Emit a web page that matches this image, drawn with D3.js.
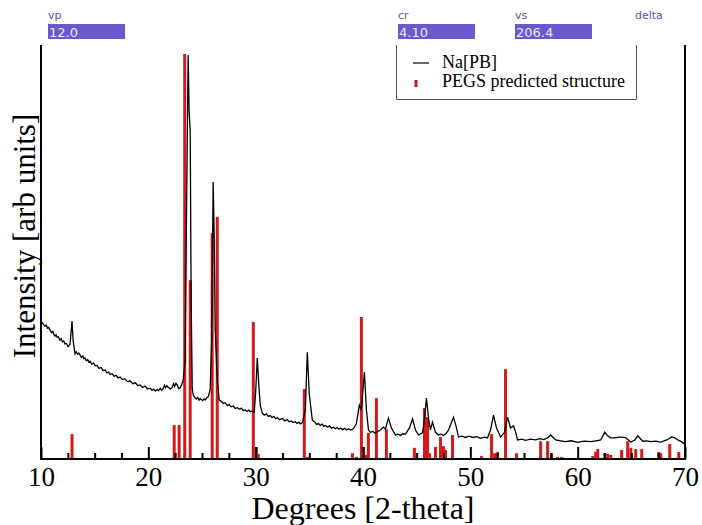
<!DOCTYPE html>
<html>
<head>
<meta charset="utf-8">
<script src="https://cdn.jsdelivr.net/npm/d3@7"></script>
<style>
  body { margin: 0; background: #fff; }
  svg { display: block; }
  .eje text { font-family: "Liberation Serif", serif; font-size: 27px; fill: #000; }
  .titulo { font-family: "Liberation Serif", serif; fill: #000; }
  .leyenda { font-family: "Liberation Serif", serif; font-size: 18px; fill: #000; }
  .widget { font-family: "DejaVu Sans", sans-serif; }
</style>
</head>
<body>
<div id="graf"></div>
<script>
// Patron experimental Na[PB]: [2-theta, intensidad]
var medido = [
  [10.09, 33.1], [10.25, 32.4], [10.37, 32.1], [10.5, 32.3], [10.6, 31.6], [10.72, 31.8], [10.84, 31.2],
  [10.97, 30.5], [11.1, 30.8], [11.2, 30.1], [11.31, 29.7], [11.4, 30.0], [11.5, 29.4], [11.63, 29.5],
  [11.77, 28.7], [11.88, 29.1], [12.0, 28.3], [12.12, 28.5], [12.24, 27.8], [12.38, 27.9], [12.52, 27.1],
  [12.71, 27.8], [12.89, 33.3], [12.99, 28.7], [13.17, 25.4], [13.28, 25.9], [13.4, 25.3], [13.52, 25.6],
  [13.64, 25.1], [13.77, 24.6], [13.9, 24.9], [14.0, 24.2], [14.10, 24.4], [14.22, 23.8], [14.35, 24.0],
  [14.46, 23.4], [14.57, 23.6], [14.73, 22.9], [14.9, 23.2], [15.05, 22.5], [15.22, 22.6], [15.4, 21.9],
  [15.6, 22.1], [15.78, 21.4], [15.97, 21.5], [16.13, 20.8], [16.3, 21.0], [16.45, 20.4], [16.62, 20.6],
  [16.8, 20.0], [17.0, 20.2], [17.18, 19.6], [17.37, 19.8], [17.58, 19.2], [17.8, 19.4], [18.05, 18.7],
  [18.30, 18.9], [18.55, 18.2], [18.8, 18.4], [19.02, 17.7], [19.24, 17.9], [19.46, 17.3], [19.7, 17.6],
  [19.93, 16.9], [20.17, 17.1], [20.35, 16.6], [20.5, 16.9], [20.66, 16.4], [20.82, 16.8], [20.96, 16.5],
  [21.1, 17.1], [21.24, 16.6], [21.38, 17.0], [21.5, 17.8], [21.6, 17.2], [21.73, 17.7], [21.85, 17.3],
  [22.05, 16.9], [22.22, 17.3], [22.35, 18.2], [22.45, 17.5], [22.57, 18.3], [22.69, 17.9], [22.83, 17.0],
  [22.97, 17.2], [23.12, 18.0], [23.25, 19.1], [23.43, 23.9], [23.57, 62.6], [23.71, 97.6], [23.80, 83.8],
  [23.90, 79.5], [23.99, 38.4], [24.09, 17.1], [24.18, 15.5], [24.32, 14.9], [24.46, 14.5], [24.6, 14.9],
  [24.72, 14.2], [24.83, 14.6], [25.05, 14.1], [25.18, 14.5], [25.30, 14.3], [25.45, 14.8], [25.58, 15.0],
  [25.76, 16.7], [25.90, 28.7], [26.04, 66.9], [26.14, 52.9], [26.23, 31.2], [26.42, 19.1], [26.60, 14.3],
  [26.8, 13.9], [26.98, 13.4], [27.15, 13.6], [27.35, 12.9], [27.52, 13.2], [27.7, 12.6], [27.9, 12.8],
  [28.10, 12.2], [28.3, 12.4], [28.5, 12.0], [28.67, 12.3], [28.84, 11.7], [29.0, 11.9], [29.2, 11.5],
  [29.35, 11.8], [29.50, 11.4], [29.7, 11.6], [29.87, 11.3], [30.01, 16.7], [30.15, 24.4], [30.29, 17.9],
  [30.43, 13.0], [30.61, 11.1], [30.8, 10.6], [31.0, 10.9], [31.18, 10.3], [31.36, 10.5], [31.53, 10.0],
  [31.7, 10.3], [31.86, 9.7], [32.01, 10.0], [32.25, 9.5], [32.5, 9.8], [32.72, 9.2], [32.95, 9.5],
  [33.12, 9.0], [33.3, 9.2], [33.5, 8.8], [33.69, 9.0], [33.85, 8.6], [34.0, 8.9], [34.18, 8.5],
  [34.35, 8.8], [34.63, 11.8], [34.81, 25.8], [35.00, 15.5], [35.28, 9.4], [35.55, 8.8], [35.7, 8.3],
  [35.84, 8.6], [36.02, 8.1], [36.2, 8.4], [36.35, 7.9], [36.49, 8.1], [36.7, 7.7], [36.9, 8.0],
  [37.07, 7.4], [37.24, 7.7], [37.42, 7.3], [37.6, 7.6], [37.75, 7.2], [37.89, 7.5], [38.1, 7.1],
  [38.3, 7.4], [38.47, 7.0], [38.64, 7.3], [38.87, 7.0], [39.10, 7.3], [39.38, 8.5], [39.66, 13.0],
  [39.85, 11.8], [40.13, 21.0], [40.32, 11.8], [40.51, 7.0], [40.7, 6.4], [40.88, 6.7], [41.1, 6.3],
  [41.34, 6.6], [41.62, 7.0], [41.90, 7.7], [42.09, 7.2], [42.37, 9.9], [42.65, 7.5], [43.02, 5.8],
  [43.25, 6.0], [43.49, 5.7], [43.72, 6.1], [43.96, 6.0], [44.33, 7.5], [44.61, 9.7], [44.89, 7.0],
  [45.17, 5.8], [45.54, 6.3], [45.72, 9.4], [45.91, 14.7], [46.10, 9.9], [46.28, 7.0], [46.47, 8.9],
  [46.75, 6.5], [47.03, 5.8], [47.25, 6.0], [47.50, 5.7], [47.75, 6.2], [47.97, 7.0], [48.25, 8.9],
  [48.43, 10.1], [48.71, 7.5], [48.90, 5.3], [49.2, 5.5], [49.55, 5.2], [49.9, 5.5], [50.21, 5.2],
  [50.6, 5.4], [50.95, 5.0], [51.3, 5.3], [51.60, 5.1], [51.88, 7.0], [52.16, 10.6], [52.44, 7.5],
  [52.82, 5.3], [53.19, 6.5], [53.47, 10.1], [53.75, 7.5], [54.03, 8.0], [54.22, 6.5], [54.40, 4.6],
  [54.8, 4.8], [55.15, 4.5], [55.6, 4.8], [56.08, 4.6], [56.45, 4.9], [56.83, 4.7], [57.20, 5.1],
  [57.48, 5.8], [57.95, 4.6], [58.4, 4.4], [58.88, 4.2], [59.4, 4.4], [60.00, 4.0], [60.6, 4.3],
  [61.21, 4.2], [61.7, 4.4], [62.15, 4.6], [62.52, 6.5], [62.80, 5.6], [63.08, 5.1], [63.46, 5.1],
  [63.83, 5.3], [64.20, 5.3], [64.48, 5.1], [64.95, 4.1], [65.32, 4.6], [65.60, 5.6], [66.06, 4.3],
  [66.4, 4.4], [66.81, 4.2], [67.3, 4.3], [67.74, 4.1], [68.30, 4.6], [68.77, 5.3], [69.05, 5.1],
  [69.33, 4.6], [69.65, 4.2], [69.98, 3.6]
]

// Picos de la estructura predicha (PEGS)
var picosPos = [12.89, 22.41, 22.87, 23.39, 23.90, 25.95, 26.42, 29.78, 30.06, 30.24, 34.53, 34.81,
  39.01, 39.38, 39.85, 40.04, 40.32, 40.50, 41.25, 42.18, 44.79, 45.73, 46.01, 46.19, 46.75, 47.22,
  47.50, 47.69, 48.34, 51.04, 51.98, 52.26, 52.54, 53.28, 54.31, 56.55, 57.20, 57.57, 58.13, 58.51,
  61.40, 61.68, 61.87, 62.52, 62.80, 63.08, 64.10, 64.66, 64.95, 65.41, 65.97, 67.56, 67.74, 68.58, 69.42]
var picosInt = [6.0, 8.2, 8.2, 97.8, 43.2, 54.6, 58.5, 33.1, 2.9, 1.2, 16.9, 0.5,
  1.4, 0.5, 34.3, 2.9, 1.0, 6.3, 14.7, 7.2, 2.7, 12.3, 10.1, 1.4, 2.9, 5.3,
  3.1, 2.2, 5.8, 0.7, 6.0, 1.4, 1.7, 21.7, 1.4, 4.3, 4.3, 1.4, 0.5, 0.5,
  0.7, 1.7, 2.4, 1.4, 1.2, 1.0, 2.2, 4.3, 2.7, 2.4, 2.4, 1.7, 1.4, 3.6, 1.7]

var ticksMayores = [10, 20, 30, 40, 50, 60, 70]
var ticksMenores = [12.5, 15, 17.5, 22.5, 25, 27.5, 32.5, 35, 37.5, 42.5, 45, 47.5, 52.5, 55, 57.5, 62.5, 65, 67.5]

var series = ['Na[PB]', 'PEGS predicted structure']
var widgetNombres = ['vp', 'cr', 'vs', 'delta']
var widgetValores = ['12.0', '4.10', '206.4', '']

var ancho_total = 702, alto_total = 525
var margins = { top: 45, left: 41, right: 17, bottom: 66 }

svg = d3.select('#graf').append('svg')
  .attr('width', ancho_total)
  .attr('height', alto_total)

// Escaladores
x = d3.scaleLinear().domain([10, 70]).range([margins.left, ancho_total - margins.right])
y = d3.scaleLinear().domain([0, 100]).range([alto_total - margins.bottom, margins.top])

svg.append('clipPath').attr('id', 'area')
  .append('rect')
  .attr('x', x(10)).attr('y', y(100))
  .attr('width', x(70) - x(10)).attr('height', y(0) - y(100))

g = svg.append('g').attr('clip-path', 'url(#area)')

// barras de la estructura predicha
g.selectAll('.pico')
  .data(picosPos.map((p, i) => ({ pos: p, val: picosInt[i] })))
  .enter().append('line')
  .attr('class', 'pico')
  .attr('x1', d => x(d.pos)).attr('x2', d => x(d.pos))
  .attr('y1', y(0)).attr('y2', d => y(d.val))
  .attr('stroke', '#d21a1a')
  .attr('stroke-width', 3)

// linea experimental
lineaGen = d3.line().x(d => x(d[0])).y(d => y(d[1]))
g.append('path')
  .attr('d', lineaGen(medido))
  .attr('fill', 'none')
  .attr('stroke', '#000')
  .attr('stroke-width', 1.3)

// Ejes
xAxisCall = d3.axisBottom(x).tickValues(ticksMayores).tickSize(-12).tickPadding(8).tickFormat(d3.format('d'))
xAxis = svg.append('g')
  .attr('class', 'eje')
  .attr('transform', `translate(0, ${y(0)})`)
  .call(xAxisCall)
xAxis.select('.domain').remove()
xAxis.selectAll('line').attr('stroke-width', 2)

menorCall = d3.axisBottom(x).tickValues(ticksMenores).tickSize(-6).tickFormat('')
menor = svg.append('g')
  .attr('transform', `translate(0, ${y(0)})`)
  .call(menorCall)
menor.select('.domain').remove()
menor.selectAll('line').attr('stroke-width', 2)

// marco: izquierda, abajo, derecha
svg.append('path')
  .attr('d', `M${x(10)},${y(100)}V${y(0)}H${x(70)}V${y(100)}`)
  .attr('fill', 'none')
  .attr('stroke', '#000')
  .attr('stroke-width', 2)

svg.append('text')
  .attr('class', 'titulo')
  .attr('x', (x(10) + x(70)) / 2)
  .attr('y', 519)
  .attr('text-anchor', 'middle')
  .style('font-size', '32px')
  .text('Degrees [2-theta]')

svg.append('text')
  .attr('class', 'titulo')
  .attr('transform', 'translate(35, 236) rotate(-90)')
  .attr('text-anchor', 'middle')
  .style('font-size', '31px')
  .text('Intensity [arb units]')

// Leyenda
var ley = svg.append('g')
ley.append('path')
  .attr('d', 'M396.5,45V99.5H636.5V45')
  .attr('fill', 'none')
  .attr('stroke', '#555')
  .attr('stroke-width', 1)
ley.append('line')
  .attr('x1', 413).attr('x2', 429).attr('y1', 63).attr('y2', 63)
  .attr('stroke', '#000').attr('stroke-width', 1.2)
ley.append('line')
  .attr('x1', 416).attr('x2', 416).attr('y1', 80).attr('y2', 87)
  .attr('stroke', '#c01c1c').attr('stroke-width', 3)
ley.selectAll('.leyenda')
  .data(series)
  .enter().append('text')
  .attr('class', 'leyenda')
  .attr('x', 442)
  .attr('y', (d, i) => 68 + i * 19)
  .text(d => d)

// controles de arriba
var wx = [48, 398, 515, 635]
var widgets = svg.selectAll('.widget')
  .data(widgetNombres)
  .enter().append('g')
  .attr('class', 'widget')
  .attr('transform', (d, i) => `translate(${wx[i]}, 0)`)
widgets.append('text')
  .attr('y', 19)
  .style('font-size', '11px')
  .attr('fill', '#5b52b3')
  .text(d => d)
widgets.filter((d, i) => widgetValores[i] !== '')
  .append('rect')
  .attr('y', 24).attr('width', 77).attr('height', 15)
  .attr('fill', '#6a58cf')
widgets.filter((d, i) => widgetValores[i] !== '')
  .append('text')
  .attr('x', 1).attr('y', 36.5)
  .style('font-size', '13px')
  .attr('fill', '#eeeeff')
  .text(d => widgetValores[widgetNombres.indexOf(d)])
</script>
</body>
</html>
